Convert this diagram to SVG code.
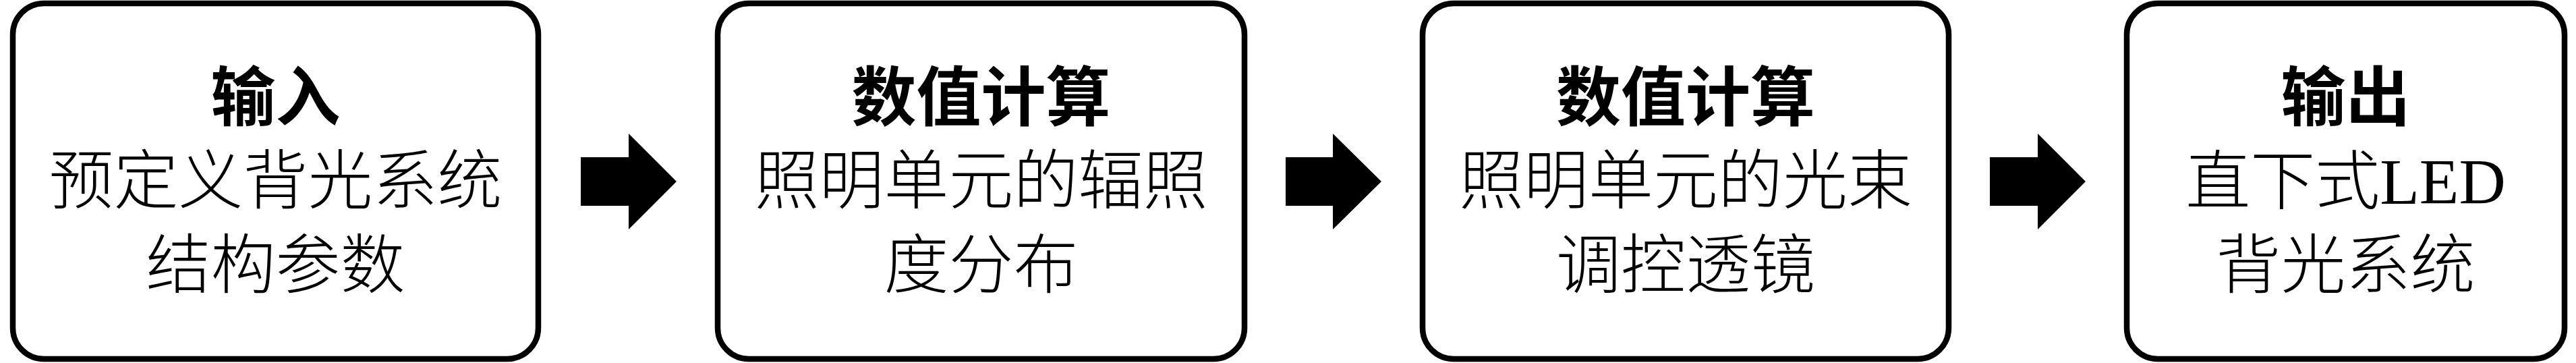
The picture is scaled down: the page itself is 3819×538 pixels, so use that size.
<svg xmlns="http://www.w3.org/2000/svg" width="3819" height="538" viewBox="0 0 3819 538">
<style>
.box{fill:#fff;stroke:#000;stroke-width:8.5}
.t{font-family:"Liberation Serif","Noto Sans CJK SC",sans-serif;font-size:96px;fill:#000;text-anchor:middle;font-weight:300}
.b{font-weight:bold}
.lat{font-weight:normal}
.arr{fill:#000}
</style>
<rect width="3819" height="538" fill="#fff"/>
<g id="node1">
<rect class="box" x="19" y="5" width="779" height="527" rx="46"/>
<text class="t"><tspan class="b" x="408.5" y="178">输入</tspan><tspan x="408.5" y="301">预定义背光系统</tspan><tspan x="408.5" y="426">结构参数</tspan></text>
</g>
<g id="node2">
<rect class="box" x="1064" y="5" width="781" height="527" rx="46"/>
<text class="t"><tspan class="b" x="1454.5" y="178">数值计算</tspan><tspan x="1454.5" y="301">照明单元的辐照</tspan><tspan x="1454.5" y="426">度分布</tspan></text>
</g>
<g id="node3">
<rect class="box" x="2109" y="5" width="780" height="527" rx="46"/>
<text class="t"><tspan class="b" x="2499" y="178">数值计算</tspan><tspan x="2499" y="301">照明单元的光束</tspan><tspan x="2499" y="426">调控透镜</tspan></text>
</g>
<g id="node4">
<rect class="box" x="3153" y="5" width="649" height="527" rx="46"/>
<text class="t"><tspan class="b" x="3477.5" y="178">输出</tspan><tspan x="3477.5" y="302">直下式<tspan class="lat">LED</tspan></tspan><tspan x="3477.5" y="426">背光系统</tspan></text>
</g>
<g id="connectors">
<polygon class="arr" points="861,233 932,233 932,198 1003,269 932,340 932,305 861,305"/>
<polygon class="arr" points="1906,233 1976,233 1976,198 2048,269 1976,340 1976,305 1906,305"/>
<polygon class="arr" points="2950,233 3021,233 3021,198 3092,269 3021,340 3021,305 2950,305"/>
</g>
</svg>
